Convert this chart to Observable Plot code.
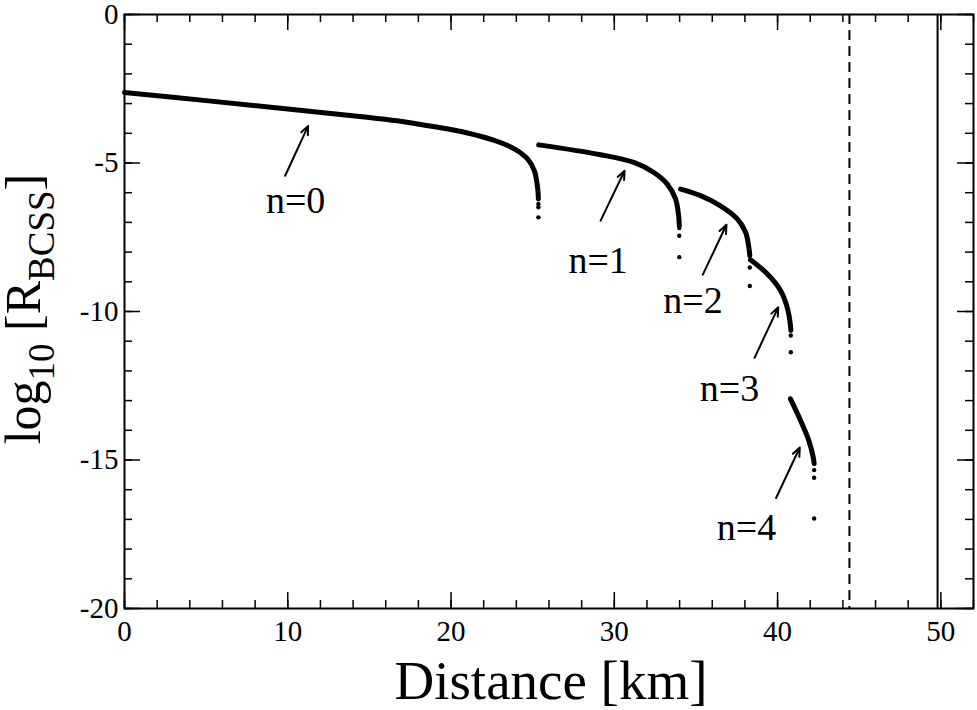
<!DOCTYPE html>
<html><head><meta charset="utf-8">
<script src="https://cdn.jsdelivr.net/npm/d3@7"></script>
<script src="https://cdn.jsdelivr.net/npm/@observablehq/plot@0.6"></script>
<style>body{margin:0;background:#fff} svg text{font-family:"Liberation Serif",serif}</style>
</head><body><div id="chart"></div>
<script>
// ---- data ----
const n0X = [0, 5, 10, 15, 17, 19, 21, 22.6, 23.9, 24.7, 25.1, 25.3, 25.35];
const n0Y = [-2.63, -2.9, -3.18, -3.47, -3.60, -3.78, -3.99, -4.23, -4.53, -4.87, -5.26, -5.82, -6.21];
const n0DotX = [25.35, 25.35, 25.35];
const n0DotY = [-6.38, -6.49, -6.83];

const n1X = [25.37, 29.16, 31.2, 32.42, 33.24, 33.75, 33.95, 33.98];
const n1Y = [-4.39, -4.72, -4.98, -5.32, -5.71, -6.21, -6.83, -7.11];
const n1DotX = [33.98, 33.98, 33.98];
const n1DotY = [-7.19, -7.45, -8.17];

const n2X = [34.06, 35.28, 36.5, 37.53, 38.04, 38.24, 38.3];
const n2Y = [-5.88, -6.10, -6.44, -6.88, -7.33, -7.84, -8.12];
const n2DotX = [38.3, 38.3];
const n2DotY = [-8.52, -9.14];

const n3X = [38.34, 39.36, 40.18, 40.59, 40.79, 40.81];
const n3Y = [-8.26, -8.73, -9.29, -9.86, -10.47, -10.64];
const n3DotX = [40.81, 40.81];
const n3DotY = [-10.81, -11.37];

const n4X = [40.79, 41.4, 41.91, 42.18, 42.24];
const n4Y = [-12.94, -13.66, -14.34, -14.9, -15.12];
const n4DotX = [42.24, 42.24, 42.24];
const n4DotY = [-15.34, -15.6, -16.97];

const labelText = ["n=0", "n=1", "n=2", "n=3", "n=4"];
const labelX = [10.48, 29.01, 34.82, 37.06, 38.10];
const labelY = [-6.27, -8.29, -9.63, -12.59, -17.29];

const arrowX1 = [9.84, 29.16, 35.42, 38.59, 39.91];
const arrowY1 = [-5.43, -6.94, -8.76, -11.56, -16.28];
const arrowX2 = [11.25, 30.63, 36.87, 40.04, 41.36];
const arrowY2 = [-3.75, -5.26, -7.08, -9.86, -14.58];

const dashedLineX = [44.4];
const solidLineX = [49.8];

const xMajor = [0, 10, 20, 30, 40, 50];
const xMinor = [0, 2, 4, 6, 8, 10, 12, 14, 16, 18, 20, 22, 24, 26, 28, 30, 32, 34, 36, 38, 40, 42, 44, 46, 48, 50, 52];
const yMajor = [-20, -15, -10, -5, 0];
const yMinor = [-20, -19, -18, -17, -16, -15, -14, -13, -12, -11, -10, -9, -8, -7, -6, -5, -4, -3, -2, -1, 0];

const xLabel = "Distance [km]";

// ---- build tables ----
const branchX = [n0X, n1X, n2X, n3X, n4X];
const branchY = [n0Y, n1Y, n2Y, n3Y, n4Y];
const dotsX = [n0DotX, n1DotX, n2DotX, n3DotX, n4DotX];
const dotsY = [n0DotY, n1DotY, n2DotY, n3DotY, n4DotY];
const lineData = branchX.flatMap((xs, n) => xs.map((x, i) => ({n, x, y: branchY[n][i]})));
const dotData = dotsX.flatMap((xs, n) => xs.map((x, i) => ({n, x, y: dotsY[n][i]})));
const labels = labelText.map((t, i) => ({t, x: labelX[i], y: labelY[i]}));
const arrows = arrowX1.map((x1, i) => ({x1, y1: arrowY1[i], x2: arrowX2[i], y2: arrowY2[i]}));

const W = 977, H = 710, mt = 14, mb = 102, ml = 124, mr = 4;
const fh = H - mt - mb, fw = W - ml - mr;
const FONT = "Liberation Serif";
const MAJ = 16, MIN = 8, TW = 1.5;

const svg = Plot.plot({
  width: W, height: H,
  marginTop: mt, marginBottom: mb, marginLeft: ml, marginRight: mr,
  style: {fontFamily: FONT, fontSize: "29px", background: "#fff", color: "#000", overflow: "visible"},
  x: {domain: [0, 52]},
  y: {domain: [-20, 0]},
  marks: [
    // inward ticks
    Plot.ruleX(xMinor, {insetTop: fh - MIN, strokeWidth: TW}),
    Plot.ruleX(xMinor, {insetBottom: fh - MIN, strokeWidth: TW}),
    Plot.ruleX(xMajor, {insetTop: fh - MAJ, strokeWidth: TW}),
    Plot.ruleX(xMajor, {insetBottom: fh - MAJ, strokeWidth: TW}),
    Plot.ruleY(yMinor, {insetRight: fw - MIN, strokeWidth: TW}),
    Plot.ruleY(yMinor, {insetLeft: fw - MIN, strokeWidth: TW}),
    Plot.ruleY(yMajor, {insetRight: fw - MAJ, strokeWidth: TW}),
    Plot.ruleY(yMajor, {insetLeft: fw - MAJ, strokeWidth: TW}),
    // reference lines
    Plot.ruleX(dashedLineX, {strokeWidth: 2, strokeDasharray: "10,6"}),
    Plot.ruleX(solidLineX, {strokeWidth: 2}),
    // data
    Plot.line(lineData, {x: "x", y: "y", z: "n", stroke: "#000", strokeWidth: 5, curve: "catmull-rom", strokeLinecap: "round"}),
    Plot.dot(dotData, {x: "x", y: "y", r: 2.2, fill: "#000", stroke: null}),
    // annotations
    Plot.arrow(arrows, {x1: "x1", y1: "y1", x2: "x2", y2: "y2", strokeWidth: 2, headLength: 7, headAngle: 45, stroke: "#000"}),
    Plot.text(labels, {x: "x", y: "y", text: "t", fontSize: 38, fontFamily: FONT, fill: "#000"}),
    // axes
    Plot.axisX(xMajor, {tickSize: 0, tickPadding: 12, label: null, tickFormat: d => String(d), fontSize: 29, fontFamily: FONT}),
    Plot.axisY(yMajor, {tickSize: 0, tickPadding: 6, label: null, tickFormat: d => String(d), fontSize: 29, fontFamily: FONT}),
    Plot.text([xLabel], {frameAnchor: "bottom", dy: 90, dx: 2, fontSize: 55, fontFamily: FONT, fill: "#000"}),
    Plot.frame({stroke: "#000", strokeWidth: 2})
  ]
});

// y-axis label with subscripts
const ys = svg.scale("y");
const yc = (ys.apply(-20) + ys.apply(0)) / 2 - 2;
const lbl = d3.select(svg).append("text")
  .attr("transform", `translate(40,${yc}) rotate(-90)`)
  .attr("text-anchor", "middle")
  .attr("font-family", FONT)
  .attr("font-size", 50)
  .attr("fill", "#000");
lbl.append("tspan").text("log");
lbl.append("tspan").attr("font-size", 37).attr("dy", 14).text("10");
lbl.append("tspan").attr("dy", -14).text(" [R");
lbl.append("tspan").attr("font-size", 37).attr("dy", 14).text("BCSS");
lbl.append("tspan").attr("dy", -14).text("]");

document.getElementById("chart").appendChild(svg);
</script>
</body></html>
